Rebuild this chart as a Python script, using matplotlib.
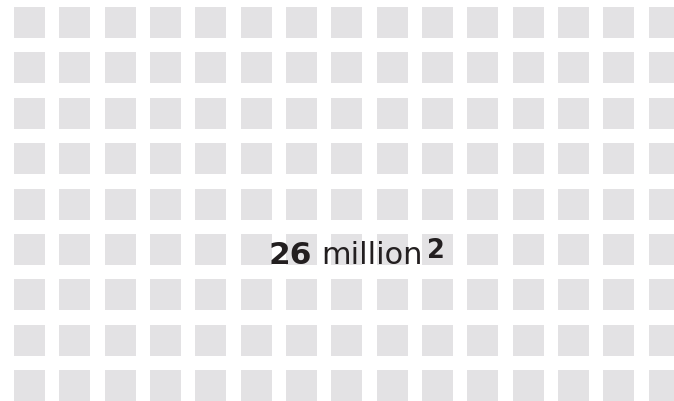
import matplotlib
matplotlib.use("Agg")
import matplotlib.pyplot as plt
from matplotlib.patches import Rectangle

# Data
n_cols = 15
n_rows = 9
value_text = "26"
unit_text = "million"
footnote = "2"

square_color = "#e3e2e4"
text_color = "#231f20"

W, H = 674, 402
fig = plt.figure(figsize=(W / 100, H / 100), dpi=100)
ax = fig.add_axes([0, 0, 1, 1])
pitch_x, pitch_y = 45.33, 45.375
ax.set_xlim(-14 / pitch_x, (W - 14) / pitch_x)
ax.set_ylim((H - 8) / pitch_y, -8 / pitch_y)
ax.axis("off")

size = 31 / 45.35
for r in range(n_rows):
    for c in range(n_cols):
        ax.add_patch(Rectangle((c, r), size, size, facecolor=square_color,
                               edgecolor="none"))

# text (pixel coords, y from top)
fam = "DejaVu Sans"
x0 = (268 - 14) / pitch_x
y0 = (264.5 - 8) / pitch_y
t1 = ax.text(x0, y0, value_text, fontsize=22.5, fontweight="bold",
             family=fam, color=text_color, ha="left", va="baseline")
t2 = ax.annotate(unit_text, xy=(1, 0), xycoords=t1, xytext=(10, 0),
                 textcoords="offset pixels", fontsize=22,
                 family=fam, color=text_color, ha="left", va="bottom",
                 annotation_clip=False)
t3 = ax.annotate(footnote, xy=(1, 0), xycoords=t2, xytext=(4, 6.5),
                 textcoords="offset pixels", fontsize=18.5, fontweight="bold",
                 family=fam, color=text_color, ha="left", va="bottom",
                 annotation_clip=False)

fig.savefig("out.png", dpi=100)
